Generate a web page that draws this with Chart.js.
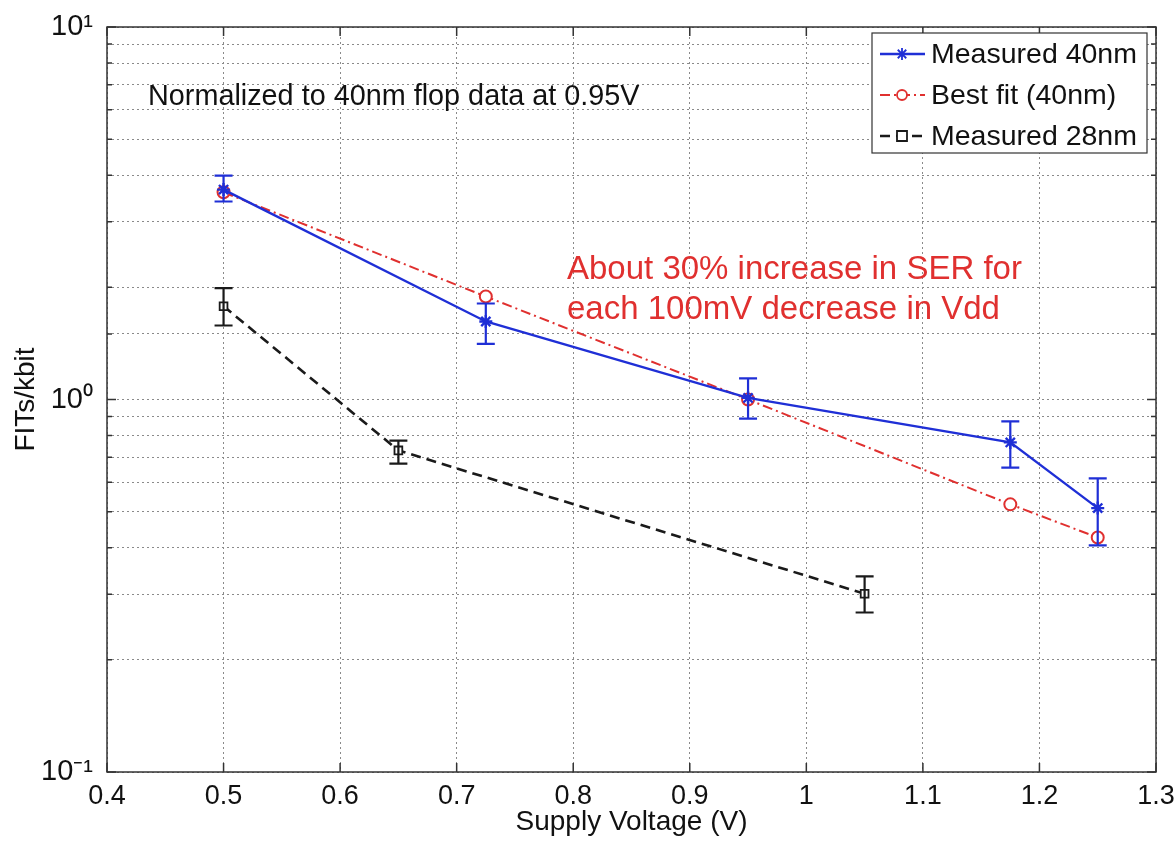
<!DOCTYPE html>
<html lang="en">
<head>
  <meta charset="UTF-8">
  <title>FITs/kbit vs Supply Voltage</title>
  <script src="https://cdn.jsdelivr.net/npm/chart.js"></script>
  <style>
    html, body { margin: 0; padding: 0; background: #fff; }
    #wrap { width: 1175px; height: 842px; }
  </style>
</head>
<body>
  <div id="wrap"><canvas id="serChart" width="1175" height="842"></canvas></div>

  <script>
    // --- data ---
    const xTicks = [0.4, 0.5, 0.6, 0.7, 0.8, 0.9, 1, 1.1, 1.2, 1.3];

    const vdd40 = [0.5, 0.725, 0.95, 1.175, 1.25];
    const meas40 = [3.66, 1.62, 1.01, 0.767, 0.511];
    const meas40Hi = [3.99, 1.81, 1.14, 0.873, 0.614];
    const meas40Lo = [3.40, 1.41, 0.889, 0.656, 0.406];

    const fit40 = [3.6, 1.89, 1.0, 0.523, 0.426];

    const vdd28 = [0.5, 0.65, 1.05];
    const meas28 = [1.78, 0.730, 0.301];
    const meas28Hi = [1.99, 0.776, 0.335];
    const meas28Lo = [1.58, 0.673, 0.268];

    const BLUE = '#1f2fd6';
    const RED = '#e0302f';
    const BLACK = '#1a1a1a';
    const FONT = '"Liberation Sans", Arial, Helvetica, sans-serif';

    const pts = (xs, ys) => xs.map((x, i) => ({ x: x, y: ys[i] }));

    // error bars, box, inner ticks, legend and notes
    const figurePlugin = {
      id: 'figure',
      afterDatasetsDraw(chart) {
        const { ctx, scales: { x, y } } = chart;
        const bars = [
          { xs: vdd40, hi: meas40Hi, lo: meas40Lo, color: BLUE },
          { xs: vdd28, hi: meas28Hi, lo: meas28Lo, color: BLACK }
        ];
        ctx.save();
        ctx.lineWidth = 2.2;
        bars.forEach(b => {
          ctx.strokeStyle = b.color;
          b.xs.forEach((v, i) => {
            const px = x.getPixelForValue(v);
            const top = y.getPixelForValue(b.hi[i]);
            const bot = y.getPixelForValue(b.lo[i]);
            ctx.beginPath();
            ctx.moveTo(px, top); ctx.lineTo(px, bot);
            ctx.moveTo(px - 9, top); ctx.lineTo(px + 9, top);
            ctx.moveTo(px - 9, bot); ctx.lineTo(px + 9, bot);
            ctx.stroke();
          });
        });
        ctx.restore();
      },
      afterDraw(chart) {
        const { ctx, chartArea: a, scales: { x, y } } = chart;
        ctx.save();

        // frame
        ctx.strokeStyle = '#333';
        ctx.lineWidth = 1.5;
        ctx.strokeRect(a.left, a.top, a.right - a.left, a.bottom - a.top);

        // inward tick marks
        ctx.beginPath();
        y.ticks.forEach(t => {
          const py = y.getPixelForValue(t.value);
          const len = t.major ? 9 : 5;
          ctx.moveTo(a.left, py); ctx.lineTo(a.left + len, py);
          ctx.moveTo(a.right, py); ctx.lineTo(a.right - len, py);
        });
        xTicks.forEach(v => {
          const px = x.getPixelForValue(v);
          ctx.moveTo(px, a.bottom); ctx.lineTo(px, a.bottom - 9);
          ctx.moveTo(px, a.top); ctx.lineTo(px, a.top + 9);
        });
        ctx.stroke();

        // notes
        ctx.textBaseline = 'alphabetic';
        ctx.fillStyle = '#111';
        ctx.font = '28.8px ' + FONT;
        ctx.fillText('Normalized to 40nm flop data at 0.95V', a.left + 41, a.top + 78);
        ctx.fillStyle = RED;
        ctx.font = '33px ' + FONT;
        ctx.fillText('About 30% increase in SER for', a.left + 460, a.top + 252);
        ctx.fillText('each 100mV decrease in Vdd', a.left + 460, a.top + 292);

        // legend box
        const lx = a.right - 284, ly = a.top + 6, lw = 275, lh = 120;
        ctx.fillStyle = '#fff';
        ctx.fillRect(lx, ly, lw, lh);
        ctx.strokeStyle = '#333';
        ctx.lineWidth = 1.2;
        ctx.strokeRect(lx, ly, lw, lh);
        const entries = chart.data.datasets;
        ctx.font = '28.5px ' + FONT;
        ctx.textBaseline = 'middle';
        entries.forEach((ds, i) => {
          const cy = ly + 21 + i * 41;
          ctx.strokeStyle = ds.borderColor;
          ctx.lineWidth = ds.borderWidth;
          ctx.setLineDash(ds.borderDash || []);
          ctx.beginPath();
          ctx.moveTo(lx + 8, cy); ctx.lineTo(lx + 53, cy);
          ctx.stroke();
          ctx.setLineDash([]);
          ctx.lineWidth = 1.8;
          ctx.beginPath();
          const mx = lx + 30;
          if (ds.pointStyle === 'star') {
            for (let k = 0; k < 4; k++) {
              const ang = k * Math.PI / 4;
              ctx.moveTo(mx - 6 * Math.cos(ang), cy - 6 * Math.sin(ang));
              ctx.lineTo(mx + 6 * Math.cos(ang), cy + 6 * Math.sin(ang));
            }
            ctx.stroke();
          } else if (ds.pointStyle === 'circle') {
            ctx.fillStyle = '#fff';
            ctx.arc(mx, cy, 5, 0, Math.PI * 2);
            ctx.fill(); ctx.stroke();
          } else {
            ctx.fillStyle = '#fff';
            ctx.rect(mx - 5, cy - 5, 10, 10);
            ctx.fill(); ctx.stroke();
          }
          ctx.fillStyle = '#111';
          ctx.fillText(ds.label, lx + 59, cy + 1);
        });

        ctx.restore();
      }
    };

    const supers = { '-': '\u207B', '0': '\u2070', '1': '\u00B9' };

    new Chart(document.getElementById('serChart'), {
      type: 'line',
      data: {
        datasets: [
          {
            label: 'Measured 40nm',
            data: pts(vdd40, meas40),
            borderColor: BLUE,
            backgroundColor: BLUE,
            borderWidth: 2.4,
            pointStyle: 'star',
            pointRadius: 6.5,
            pointBorderWidth: 2.4,
            tension: 0
          },
          {
            label: 'Best fit (40nm)',
            data: pts(vdd40, fit40),
            borderColor: RED,
            backgroundColor: '#fff',
            borderWidth: 2,
            borderDash: [10, 4, 2, 4],
            pointStyle: 'circle',
            pointRadius: 6,
            pointBorderWidth: 2,
            tension: 0
          },
          {
            label: 'Measured 28nm',
            data: pts(vdd28, meas28),
            borderColor: BLACK,
            backgroundColor: '#fff',
            borderWidth: 2.6,
            borderDash: [10, 6],
            pointStyle: 'rect',
            pointRadius: 5.5,
            pointBorderWidth: 1.8,
            tension: 0
          }
        ]
      },
      options: {
        responsive: false,
        animation: false,
        layout: { padding: { top: 27, right: 19, left: 0, bottom: 0 } },
        plugins: {
          legend: { display: false },
          tooltip: { enabled: false }
        },
        scales: {
          x: {
            type: 'linear',
            min: 0.4,
            max: 1.3,
            afterBuildTicks: axis => { axis.ticks = xTicks.map(v => ({ value: v })); },
            afterFit: axis => { axis.height = 70; axis.paddingRight = 0; axis.paddingLeft = 0; },
            grid: {
              color: '#8a8a8a',
              lineWidth: 1,
              drawTicks: false
            },
            border: { display: false, dash: [2, 3] },
            ticks: {
              color: '#111',
              padding: 8,
              font: { family: FONT, size: 27 },
              callback: v => String(Number(v.toFixed(2)))
            },
            title: {
              display: true,
              text: 'Supply Voltage (V)',
              color: '#111',
              font: { family: FONT, size: 28 },
              padding: { top: 0, bottom: 3 }
            }
          },
          y: {
            type: 'logarithmic',
            min: 0.1,
            max: 10,
            afterFit: axis => { axis.width = 107; axis.paddingTop = 0; axis.paddingBottom = 0; },
            grid: {
              color: '#8a8a8a',
              lineWidth: 1,
              drawTicks: false
            },
            border: { display: false, dash: [2, 3] },
            ticks: {
              color: '#111',
              padding: 14,
              autoSkip: false,
              font: { family: FONT, size: 29 },
              callback: v => {
                const e = Math.log10(v);
                if (Math.abs(e - Math.round(e)) > 1e-6) return '';
                return '10' + String(Math.round(e)).split('').map(c => supers[c]).join('');
              }
            },
            title: {
              display: true,
              text: 'FITs/kbit',
              color: '#111',
              font: { family: FONT, size: 28 },
              padding: { top: 9, bottom: 0 }
            }
          }
        }
      },
      plugins: [figurePlugin]
    });
  </script>
</body>
</html>
